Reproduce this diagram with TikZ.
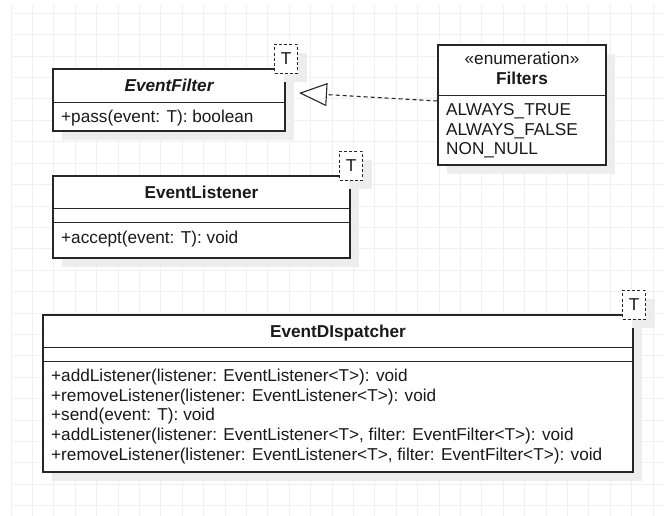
\documentclass[tikz,border=0pt]{standalone}
\usepackage{fontspec}
\setmainfont{Liberation Sans}
\usetikzlibrary{arrows.meta,shadows}

\newcommand{\umlsize}{\fontsize{17.2}{19.6}\selectfont}

\begin{document}
\begin{tikzpicture}[x=1pt, y=-1pt,
    every node/.style={font=\umlsize, text=black!90, inner sep=0pt},
    gridline/.style={draw=black!6, line width=.8pt},
    divider/.style={draw=black!85, line width=1.1pt},
    umlbox/.style={divider, fill=white,
      drop shadow={shadow xshift=9pt, shadow yshift=-9pt, fill=black!7, opacity=1}},
    tparam/.style={umlbox, dash pattern=on 3pt off 2.2pt, minimum width=23, minimum height=29},
    title/.style={font=\umlsize\bfseries, anchor=base},
    member/.style={anchor=base west, align=left},
    realizes/.style={draw=black!85, line width=1.1pt, dash pattern=on 4pt off 3pt,
      -{Triangle[open, length=28pt, width=23pt]}}]
  \useasboundingbox (0,0) rectangle (664,516);

  % background grid
  \foreach \k in {0,...,30}
    \draw[gridline] (11+21.4*\k,5) -- (11+21.4*\k,516);
  \foreach \k in {0,...,23}
    \draw[gridline] (11,13.3+21.4*\k) -- (664,13.3+21.4*\k);

  % EventFilter<T>
  \node[umlbox, minimum width=232, minimum height=62] (filter) at (169,100) {};
  \draw[divider] (filter.north west) ++(0,34) -- ++(232,0);
  \node[tparam] (filterT) at ([xshift=.5pt, yshift=9.5pt]filter.north east) {T};
  \node[title, font=\umlsize\bfseries\itshape] (filterName) at (169,92) {EventFilter};
  \node[member] (filterOps) at (61,123) {+pass(event: T): boolean};

  % Filters enumeration (multi-line members sit on their last baseline)
  \node[umlbox, minimum width=168, minimum height=120] (filters) at (522,105) {};
  \draw[divider] (filters.north west) ++(0,51) -- ++(168,0);
  \node[anchor=base] (filtersStereo) at (522,64.5) {«enumeration»};
  \node[title] (filtersName) at (522,85) {Filters};
  \node[member] (filtersItems) at (446,155) {ALWAYS\_TRUE\\ALWAYS\_FALSE\\NON\_NULL};

  % EventListener<T>
  \node[umlbox, minimum width=297, minimum height=82] (listener) at (201.5,217) {};
  \draw[divider] (listener.north west) ++(0,33) -- ++(297,0);
  \draw[divider] (listener.north west) ++(0,47) -- ++(297,0);
  \node[tparam] (listenerT) at ([xshift=.5pt, yshift=9.5pt]listener.north east) {T};
  \node[title] (listenerName) at (201.5,198) {EventListener};
  \node[member] (listenerOps) at (61,243) {+accept(event: T): void};

  % EventDIspatcher<T>
  \node[umlbox, minimum width=590, minimum height=157] (dispatcher) at (338,393.5) {};
  \draw[divider] (dispatcher.north west) ++(0,33) -- ++(590,0);
  \draw[divider] (dispatcher.north west) ++(0,47) -- ++(590,0);
  \node[tparam] (dispatcherT) at ([xshift=.5pt, yshift=9.5pt]dispatcher.north east) {T};
  \node[title] (dispatcherName) at (338,337) {EventDIspatcher};
  \node[member] (dispatcherOps) at (51,460) {+addListener(listener: EventListener<T>): void\\
    +removeListener(listener: EventListener<T>): void\\
    +send(event: T): void\\
    +addListener(listener: EventListener<T>, filter: EventFilter<T>): void\\
    +removeListener(listener: EventListener<T>, filter: EventFilter<T>): void};

  % Filters realizes EventFilter
  \coordinate (filterTip) at (299,93);
  \draw[realizes] ([yshift=4pt]filters.west) -- (filterTip);
\end{tikzpicture}
\end{document}
